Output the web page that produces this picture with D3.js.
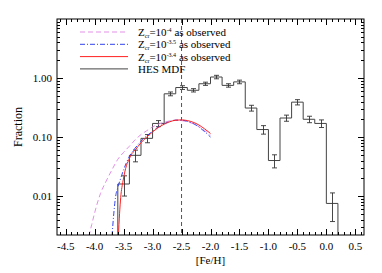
<!DOCTYPE html>
<html>
<head>
<meta charset="utf-8">
<script src="https://cdn.jsdelivr.net/npm/d3@7"></script>
<style>
  body { margin: 0; background: #fff; }
</style>
</head>
<body>
<svg id="chart" width="382" height="273" font-family="'Liberation Serif', 'Times New Roman', Times, 'DejaVu Serif', serif"></svg>
<script>
// HES MDF histogram (bin centres, fraction, error)
const binCenters = [-3.5, -3.3, -3.1, -2.9, -2.7, -2.5, -2.3, -2.1, -1.9, -1.7, -1.5, -1.3, -1.1, -0.9, -0.7, -0.5, -0.3, -0.1, 0.1];
const binValues  = [0.016, 0.049, 0.095, 0.17, 0.54, 0.69, 0.62, 0.80, 1.04, 0.75, 0.86, 0.31, 0.134, 0.040, 0.21, 0.39, 0.20, 0.17, 0.0075];
const binErrors  = [0.006, 0.011, 0.015, 0.02, 0.04, 0.05, 0.04, 0.05, 0.07, 0.05, 0.06, 0.035, 0.022, 0.010, 0.025, 0.04, 0.025, 0.025, 0.0038];
const binWidth = 0.2;

// model curves
const pinkX = [-4.10, -4.05, -4.00, -3.90, -3.80, -3.70, -3.60, -3.50, -3.40, -3.30, -3.20, -3.10, -3.00, -2.90, -2.80, -2.70, -2.60, -2.50, -2.40, -2.30, -2.20, -2.10, -2.00];
const pinkY = [0.0021, 0.0033, 0.0052, 0.011, 0.018, 0.028, 0.042, 0.055, 0.070, 0.090, 0.110, 0.128, 0.148, 0.165, 0.178, 0.188, 0.193, 0.190, 0.182, 0.168, 0.150, 0.128, 0.108];

const blueX = [-3.70, -3.67, -3.64, -3.60, -3.55, -3.50, -3.45, -3.40, -3.30, -3.20, -3.10, -3.00, -2.90, -2.80, -2.70, -2.60, -2.50, -2.40, -2.30, -2.20, -2.10, -2.00];
const blueY = [0.0021, 0.005, 0.0095, 0.014, 0.020, 0.028, 0.037, 0.047, 0.065, 0.085, 0.105, 0.125, 0.148, 0.168, 0.184, 0.193, 0.193, 0.185, 0.170, 0.148, 0.123, 0.100];

const redX = [-3.59, -3.57, -3.55, -3.51, -3.45, -3.40, -3.38, -3.30, -3.20, -3.10, -3.00, -2.90, -2.80, -2.70, -2.60, -2.50, -2.40, -2.30, -2.20, -2.10, -2.00];
const redY = [0.0021, 0.005, 0.0095, 0.018, 0.033, 0.043, 0.048, 0.060, 0.080, 0.100, 0.122, 0.145, 0.165, 0.182, 0.193, 0.195, 0.190, 0.178, 0.160, 0.137, 0.115];

const xTickValues = [-4.5, -4.0, -3.5, -3.0, -2.5, -2.0, -1.5, -1.0, -0.5, 0.0, 0.5];
const yTickValues = [0.01, 0.1, 1];
const yTickLabels = ["0.01", "0.10", "1.00"];
const markerFeH = -2.5;

const legendItems = [
  { exp: "-4",   color: "#e48fe8", dash: "5,3" },
  { exp: "-3.5", color: "#3344ee", dash: "5,2,1,2" },
  { exp: "-3.4", color: "#ff2020", dash: null }
];

const margin = { top: 19, right: 18, bottom: 38, left: 57 };
const width = 382 - margin.left - margin.right;
const height = 273 - margin.top - margin.bottom;

const svg = d3.select("#chart");
const g = svg.append("g").attr("transform", `translate(${margin.left},${margin.top})`);

const x = d3.scaleLinear().domain([-4.65, 0.65]).range([0, width]);
const y = d3.scaleLog().domain([Math.pow(10, -2.66), 10]).range([height, 0]);

g.append("clipPath").attr("id", "clip")
  .append("rect").attr("width", width).attr("height", height);

const plot = g.append("g").attr("clip-path", "url(#clip)");

// histogram outline
const steps = [[binCenters[0] - binWidth / 2, y.domain()[0]]];
binCenters.forEach((c, i) => {
  steps.push([c - binWidth / 2, binValues[i]]);
  steps.push([c + binWidth / 2, binValues[i]]);
});
steps.push([binCenters[binCenters.length - 1] + binWidth / 2, y.domain()[0]]);

plot.append("path")
  .datum(steps)
  .attr("fill", "none")
  .attr("stroke", "#444")
  .attr("stroke-width", 1)
  .attr("d", d3.line().x(d => x(d[0])).y(d => y(d[1])));

// error bars
const errs = plot.append("g").attr("stroke", "#333").attr("stroke-width", 0.9);
binCenters.forEach((c, i) => {
  const lo = Math.max(binValues[i] - binErrors[i], 1e-4);
  const hi = binValues[i] + binErrors[i];
  const cx = Math.round(x(c)) + 0.5;
  errs.append("line").attr("x1", cx).attr("x2", cx).attr("y1", y(lo)).attr("y2", y(hi));
  errs.append("line").attr("x1", cx - 2.5).attr("x2", cx + 2.5).attr("y1", y(lo)).attr("y2", y(lo));
  errs.append("line").attr("x1", cx - 2.5).attr("x2", cx + 2.5).attr("y1", y(hi)).attr("y2", y(hi));
});

// dashed marker line
plot.append("line")
  .attr("x1", x(markerFeH)).attr("x2", x(markerFeH))
  .attr("y1", 0).attr("y2", height)
  .attr("stroke", "#555").attr("stroke-dasharray", "4,3").attr("stroke-width", 1);

// model curves
const curve = d3.line().x(d => x(d[0])).y(d => y(d[1])).curve(d3.curveMonotoneX);
[[pinkX, pinkY], [blueX, blueY], [redX, redY]].forEach((s, i) => {
  plot.append("path")
    .datum(s[0].map((v, j) => [v, s[1][j]]))
    .attr("fill", "none")
    .attr("stroke", legendItems[i].color)
    .attr("stroke-width", 1)
    .attr("stroke-dasharray", legendItems[i].dash)
    .attr("d", curve);
});

// frame
g.append("rect").attr("width", width).attr("height", height)
  .attr("fill", "none").attr("stroke", "#000").attr("stroke-width", 1);

// x ticks (bottom and top, inward)
const ticks = g.append("g").attr("stroke", "#000").attr("stroke-width", 1);
d3.range(-46, 7).map(v => v / 10).forEach(v => {
  const major = Math.abs(v * 2 - Math.round(v * 2)) < 1e-6;
  const len = major ? 6 : 3;
  const px = Math.round(x(v)) + 0.5;
  ticks.append("line").attr("x1", px).attr("x2", px).attr("y1", height).attr("y2", height - len);
  ticks.append("line").attr("x1", px).attr("x2", px).attr("y1", 0).attr("y2", len);
});

// y ticks (left and right, inward)
[0.001, 0.01, 0.1, 1].forEach(dec => {
  d3.range(1, 10).forEach(k => {
    const v = dec * k;
    if (v < y.domain()[0] || v > y.domain()[1]) return;
    const len = k === 1 ? 6 : 3;
    const py = Math.round(y(v)) + 0.5;
    ticks.append("line").attr("x1", 0).attr("x2", len).attr("y1", py).attr("y2", py);
    ticks.append("line").attr("x1", width).attr("x2", width - len).attr("y1", py).attr("y2", py);
  });
});

// tick labels
g.selectAll(".xlab").data(xTickValues).enter().append("text")
  .attr("x", d => x(d)).attr("y", height + 15)
  .attr("text-anchor", "middle").attr("font-size", 11)
  .text(d => d3.format(".1f")(d).replace("−", "-"));

g.selectAll(".ylab").data(yTickValues).enter().append("text")
  .attr("x", -5).attr("y", d => y(d) + 4)
  .attr("text-anchor", "end").attr("font-size", 11)
  .text((d, i) => yTickLabels[i]);

g.append("text").attr("x", width / 2).attr("y", height + 29)
  .attr("text-anchor", "middle").attr("font-size", 11).text("[Fe/H]");

g.append("text")
  .attr("transform", `translate(${-35},${height / 2}) rotate(-90)`)
  .attr("text-anchor", "middle").attr("font-size", 12).text("Fraction");

// legend
const legend = g.append("g").attr("transform", "translate(23,13)");
legendItems.forEach((d, i) => {
  const row = legend.append("g").attr("transform", `translate(0,${i * 12.3})`);
  row.append("line").attr("x1", 0).attr("x2", 48).attr("y1", 0).attr("y2", 0)
    .attr("stroke", d.color).attr("stroke-width", 1)
    .attr("stroke-dasharray", d.dash);
  const t = row.append("text").attr("x", 58).attr("y", 4).attr("font-size", 11);
  t.append("tspan").text("Z");
  t.append("tspan").attr("font-size", 6).attr("dy", 2).text("cr");
  t.append("tspan").attr("dy", -2).text("=10");
  t.append("tspan").attr("font-size", 6).attr("dy", -4).text(d.exp);
  t.append("tspan").attr("dy", 4).text(" as observed");
});
const hesRow = legend.append("g").attr("transform", `translate(0,${3 * 12.3})`);
hesRow.append("line").attr("x1", 0).attr("x2", 48).attr("y1", 0).attr("y2", 0)
  .attr("stroke", "#444").attr("stroke-width", 1);
hesRow.append("text").attr("x", 58).attr("y", 4).attr("font-size", 11).text("HES MDF");
</script>
</body>
</html>
